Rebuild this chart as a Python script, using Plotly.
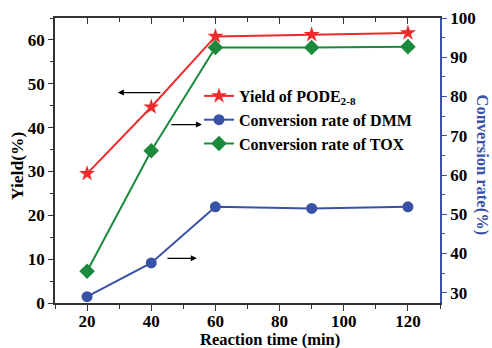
import plotly.graph_objects as go

time = [20, 40, 60, 90, 120]
yield_pode = [29.5, 44.7, 60.8, 61.2, 61.6]
conv_dmm = [29.0, 37.6, 51.9, 51.5, 51.9]
conv_tox = [35.5, 66.2, 92.5, 92.5, 92.7]

RED = "#EE2A2A"
BLUE = "#3A52A6"
GREEN = "#1B8A3C"
FONT = "Liberation Serif"

fig = go.Figure()
fig.add_trace(go.Scatter(x=time, y=yield_pode, name="Yield of PODE<sub>2-8</sub>",
                         mode="lines+markers", line=dict(color=RED, width=2),
                         marker=dict(symbol="star", size=12, color=RED)))
fig.add_trace(go.Scatter(x=time, y=conv_dmm, name="Conversion rate of DMM", yaxis="y2",
                         mode="lines+markers", line=dict(color=BLUE, width=2),
                         marker=dict(symbol="circle", size=11, color=BLUE)))
fig.add_trace(go.Scatter(x=time, y=conv_tox, name="Conversion rate of TOX", yaxis="y2",
                         mode="lines+markers", line=dict(color=GREEN, width=2),
                         marker=dict(symbol="diamond", size=12, color=GREEN)))
# invisible trace to carry the top mirrored x axis
fig.add_trace(go.Scatter(x=[time[0]], y=[yield_pode[0]], xaxis="x2", showlegend=False,
                         mode="markers", marker=dict(opacity=0), hoverinfo="skip"))

tickfont = dict(family=FONT, size=17, color="black", weight="bold")
titlefont = dict(family=FONT, size=16.5, color="black", weight="bold")

# plot area in page pixels: x 55..440, y 18..303
fig.update_layout(
    width=492, height=348,
    margin=dict(l=55, r=52, t=18, b=45),
    paper_bgcolor="white", plot_bgcolor="white",
    font=dict(family=FONT, size=15, color="black", weight="bold"),
    showlegend=True,
    legend=dict(x=0.374, y=0.786, xanchor="left", yanchor="top",
                bgcolor="rgba(0,0,0,0)", font=dict(family=FONT, size=16, color="black", weight="bold"),
                itemwidth=30, tracegroupgap=0),
    xaxis=dict(range=[10, 130], dtick=20, tick0=0, showgrid=False, zeroline=False, automargin=False,
               showline=True, linecolor="#333", linewidth=1.5,
               ticks="outside", ticklen=6, tickcolor="#333", tickfont=tickfont,
               ticklabelstandoff=-4,
               minor=dict(dtick=10, ticks="outside", ticklen=4, tickcolor="#333")),
    xaxis2=dict(range=[10, 130], dtick=20, tick0=0, overlaying="x", side="top", automargin=False,
                showgrid=False, zeroline=False, showline=True, linecolor="#333", linewidth=1.5,
                ticks="inside", ticklen=6, tickcolor="#333", showticklabels=False,
                minor=dict(dtick=10, ticks="inside", ticklen=4, tickcolor="#333")),
    yaxis=dict(range=[0, 65], dtick=10, showgrid=False, zeroline=False, automargin=False,
               showline=True, linecolor="#333", linewidth=1.5,
               ticks="outside", ticklen=5, tickcolor="#333", tickfont=tickfont,
               minor=dict(dtick=5, ticks="outside", ticklen=3, tickcolor="#333")),
    yaxis2=dict(range=[27.4, 100], dtick=10, tick0=0, overlaying="y", side="right", automargin=False,
                showgrid=False, zeroline=False, showline=True, linecolor=BLUE, linewidth=1.5,
                ticks="outside", ticklen=5, tickcolor=BLUE, tickfont=tickfont,
                minor=dict(dtick=5, ticks="outside", ticklen=3, tickcolor=BLUE)),
)

# axis titles placed relative to the plot area (385 x 285 px)
fig.add_annotation(text="Reaction time (min)", xref="paper", yref="paper",
                   x=(270 - 55) / 385, y=-(339 - 303) / 285, showarrow=False,
                   xanchor="center", yanchor="middle", font=titlefont)
fig.add_annotation(text="Yield(%)", xref="paper", yref="paper",
                   x=-(55 - 17) / 385, y=(303 - 166) / 285, textangle=-90, showarrow=False,
                   xanchor="center", yanchor="middle",
                   font=dict(family=FONT, size=17.5, color="black", weight="bold"))
fig.add_annotation(text="Conversion rate(%)", xref="paper", yref="paper",
                   x=1 + (482.5 - 440) / 385, y=(303 - 165) / 285, textangle=90, showarrow=False,
                   xanchor="center", yanchor="middle",
                   font=dict(family=FONT, size=16.5, color=BLUE, weight="bold"))

arrow_style = dict(showarrow=True, arrowhead=2, arrowsize=1, arrowwidth=1.2,
                   arrowcolor="black", text="")
fig.add_annotation(x=29.6, y=48.0, ax=43.3, ay=48.0, xref="x", yref="y", axref="x", ayref="y", **arrow_style)
fig.add_annotation(x=55.8, y=40.7, ax=45.8, ay=40.7, xref="x", yref="y", axref="x", ayref="y", **arrow_style)
fig.add_annotation(x=54.2, y=10.2, ax=44.6, ay=10.2, xref="x", yref="y", axref="x", ayref="y", **arrow_style)

fig.write_html("out.html", config={"displayModeBar": False},
               post_script="document.body.style.margin='0';document.body.style.overflow='hidden';")
